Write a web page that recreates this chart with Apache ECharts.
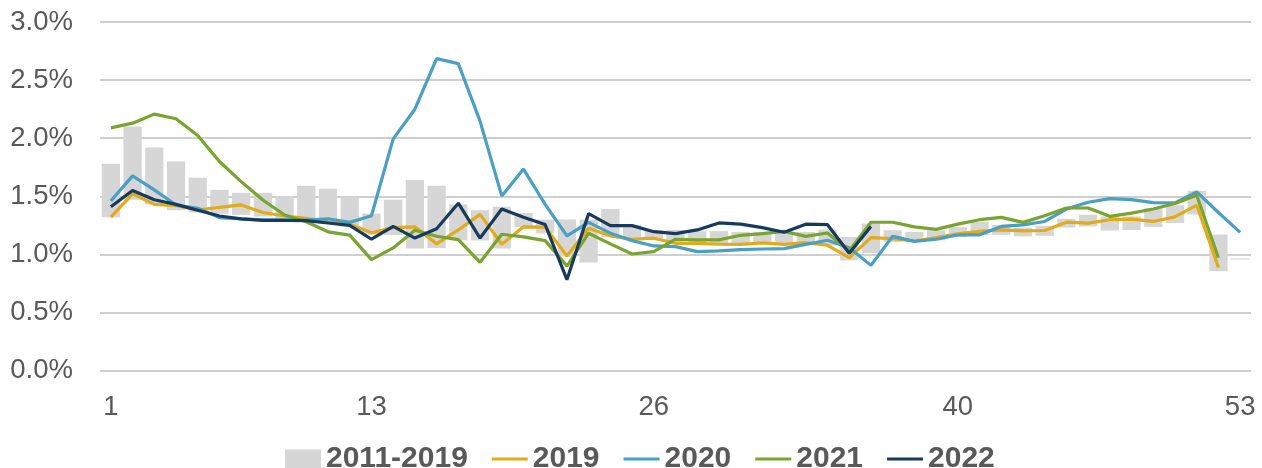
<!DOCTYPE html>
<html>
<head>
<meta charset="utf-8">
<script src="https://cdn.jsdelivr.net/npm/echarts@6/dist/echarts.min.js"></script>
<style>
html,body{margin:0;padding:0;background:#fff;}
#chart{width:1262px;height:468px;}
</style>
</head>
<body>
<div id="chart"></div>
<script>
// Week numbers
const weeks = Array.from({length: 53}, (_, i) => String(i + 1));
const xTickLabels = ['1', '13', '26', '40', '53'];
const yTicks = ['0.0%', '0.5%', '1.0%', '1.5%', '2.0%', '2.5%', '3.0%'];

// 2011-2019 range (min and max), percent
const range2011_2019Low = [1.32,1.47,1.43,1.38,1.36,1.35,1.34,1.325,1.31,1.30,1.27,1.24,1.17,1.165,1.05,1.055,1.12,1.12,1.05,1.235,1.18,0.98,0.93,1.15,1.13,1.125,1.095,1.08,1.085,1.078,1.09,1.085,1.09,1.075,0.948,1.01,1.106,1.106,1.12,1.15,1.165,1.168,1.155,1.159,1.23,1.24,1.205,1.21,1.237,1.27,1.343,0.855,0.955];
const range2011_2019High = [1.78,2.10,1.92,1.80,1.66,1.555,1.53,1.53,1.50,1.59,1.565,1.49,1.35,1.47,1.64,1.59,1.43,1.38,1.41,1.355,1.30,1.30,1.30,1.39,1.255,1.21,1.21,1.20,1.20,1.193,1.193,1.185,1.193,1.213,1.15,1.264,1.207,1.193,1.207,1.234,1.28,1.254,1.23,1.246,1.306,1.341,1.327,1.327,1.397,1.423,1.547,1.17,0.965];

const s2019 = [1.32,1.52,1.43,1.42,1.38,1.405,1.425,1.36,1.33,1.31,1.28,1.26,1.185,1.23,1.237,1.09,1.21,1.344,1.087,1.237,1.234,0.986,1.225,1.159,1.13,1.139,1.095,1.095,1.087,1.086,1.098,1.086,1.10,1.078,0.971,1.144,1.135,1.115,1.145,1.176,1.197,1.211,1.202,1.205,1.277,1.269,1.298,1.303,1.283,1.323,1.423,0.886,null];
const s2020 = [1.46,1.675,1.555,1.425,1.397,1.316,1.305,1.296,1.296,1.295,1.306,1.275,1.332,1.994,2.249,2.685,2.642,2.147,1.503,1.734,1.43,1.159,1.275,1.182,1.118,1.072,1.066,1.023,1.029,1.04,1.046,1.049,1.086,1.121,1.057,0.905,1.155,1.112,1.13,1.168,1.168,1.24,1.254,1.283,1.39,1.448,1.48,1.471,1.445,1.443,1.537,1.36,1.189];
const s2021 = [2.089,2.129,2.207,2.167,2.023,1.799,1.626,1.468,1.339,1.28,1.194,1.165,0.954,1.055,1.208,1.156,1.127,0.931,1.173,1.15,1.118,0.899,1.182,1.09,1.003,1.023,1.13,1.124,1.124,1.164,1.178,1.198,1.155,1.184,1.029,1.276,1.276,1.236,1.215,1.26,1.298,1.318,1.275,1.332,1.399,1.399,1.327,1.355,1.39,1.437,1.509,0.971,null];
const s2022 = [1.41,1.55,1.47,1.43,1.38,1.33,1.305,1.293,1.293,1.29,1.27,1.25,1.13,1.24,1.14,1.22,1.44,1.14,1.39,1.32,1.256,0.782,1.351,1.247,1.247,1.195,1.178,1.21,1.27,1.26,1.23,1.19,1.26,1.255,1.01,1.24];

const rangeSpan = range2011_2019High.map((h, i) => +(h - range2011_2019Low[i]).toFixed(4));

const axisFont = {fontFamily: '"Liberation Sans", Arial, sans-serif', fontSize: 27.5, color: '#595959'};
const legendFont = {fontFamily: '"Liberation Sans", Arial, sans-serif', fontSize: 30, fontWeight: 'bold', color: '#595959'};
const lineIcon = 'path://M0 0H36V3H0Z';

const chart = echarts.init(document.getElementById('chart'), null, {renderer: 'canvas'});
const lineSeries = (name, data, color) => ({
  name, type: 'line', data, symbol: 'none', smooth: false,
  lineStyle: {color, width: 3.2}, itemStyle: {color},
  connectNulls: false, z: 3, animation: false
});
chart.setOption({
  animation: false,
  grid: {left: 100, right: 11, top: 22, bottom: 97.5, containLabel: false},
  legend: {
    top: 439, left: 280,
    itemWidth: 36, itemHeight: 19, itemGap: 24,
    textStyle: legendFont,
    data: [
      {name: '2011-2019', icon: 'rect'},
      {name: '2019', icon: lineIcon},
      {name: '2020', icon: lineIcon},
      {name: '2021', icon: lineIcon},
      {name: '2022', icon: lineIcon}
    ]
  },
  xAxis: {
    type: 'category', data: weeks, boundaryGap: true,
    axisLine: {show: false}, axisTick: {show: false},
    axisLabel: {
      ...axisFont, margin: 23,
      interval: (idx, val) => xTickLabels.includes(val)
    },
    splitLine: {show: false}
  },
  yAxis: {
    type: 'value', min: 0, max: 3, interval: 0.5,
    axisLine: {show: false}, axisTick: {show: false},
    axisLabel: {...axisFont, margin: 27, formatter: v => yTicks[Math.round(v / 0.5)]},
    splitLine: {lineStyle: {color: '#bfbfbf', width: 1.5}}
  },
  series: [
    {name: 'base', type: 'bar', stack: 'band', data: range2011_2019Low,
     itemStyle: {color: 'rgba(0,0,0,0)'}, barCategoryGap: '16%', silent: true, z: 1},
    {name: '2011-2019', type: 'bar', stack: 'band', data: rangeSpan,
     itemStyle: {color: '#d6d6d6'}, barCategoryGap: '16%', z: 1},
    lineSeries('2019', s2019, '#e2ab1c'),
    lineSeries('2020', s2020, '#4a9fc4'),
    lineSeries('2021', s2021, '#78a42f'),
    lineSeries('2022', s2022, '#183a5e')
  ]
});
</script>
</body>
</html>
